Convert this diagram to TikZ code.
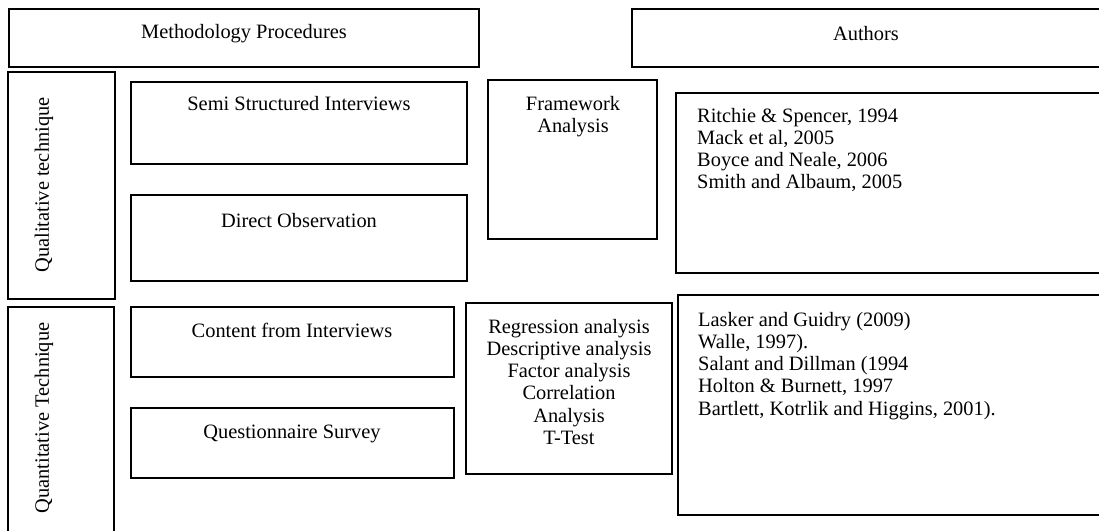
\documentclass[tikz,border=0pt]{standalone}
\usepackage{fontspec}
\setmainfont{Liberation Serif}
\begin{document}
\begin{tikzpicture}[x=1pt,y=-1pt,
  box/.style={draw=black,line width=1.6pt},
  lbl/.style={inner sep=0pt,font=\fontsize{20.4}{22.3}\selectfont}]
\useasboundingbox (0,0) rectangle (1099,530);
   % headers
   \draw[box] (9,9) rectangle (479,67);
   \node[lbl] (meth) at (244,34) {Methodology Procedures};
   \draw[box] (632,9) rectangle (1110,67);
   \node[lbl] (auth) at (866,34) {Authors};
   % side labels
   \draw[box] (8,72) rectangle (115,299);
   \node[lbl,rotate=90] (qual) at (44,185) {Qualitative technique};
   \draw[box] (8,307) rectangle (114,545);
   \node[lbl,rotate=90] (quant) at (44,418) {Quantitative Technique};
   % qualitative row (base = last line)
   \draw[box] (131,82) rectangle (467,164);
   \node[lbl,anchor=base] (semi) at (299,110) {Semi Structured Interviews};
   \draw[box] (131,195) rectangle (467,281);
   \node[lbl,anchor=base] (direct) at (299,227) {Direct Observation};
   \draw[box] (488,80) rectangle (657,239);
   \node[lbl,anchor=base,align=center] (frame) at (573,132.3) {Framework\\Analysis};
   \draw[box] (676,93) rectangle (1110,273);
   \node[lbl,anchor=base west,align=left] (refqual) at (697,188.9)
     {Ritchie \& Spencer, 1994\\Mack et al, 2005\\Boyce and Neale, 2006\\Smith and Albaum, 2005};
   % quantitative row
   \draw[box] (131,307) rectangle (454,377);
   \node[lbl,anchor=base] (content) at (292,337) {Content from Interviews};
   \draw[box] (131,408) rectangle (454,478);
   \node[lbl,anchor=base] (quest) at (292,438) {Questionnaire Survey};
   \draw[box] (466,303) rectangle (672,474);
   \node[lbl,anchor=base,align=center] (stats) at (569,444.5)
     {Regression analysis\\Descriptive analysis\\Factor analysis\\Correlation\\Analysis\\T-Test};
   \draw[box] (678,295) rectangle (1110,515);
   \node[lbl,anchor=base west,align=left] (refquant) at (698,415.2)
     {Lasker and Guidry (2009)\\Walle, 1997).\\Salant and Dillman (1994\\Holton \& Burnett, 1997\\Bartlett, Kotrlik and Higgins, 2001).};
\end{tikzpicture}
\end{document}
